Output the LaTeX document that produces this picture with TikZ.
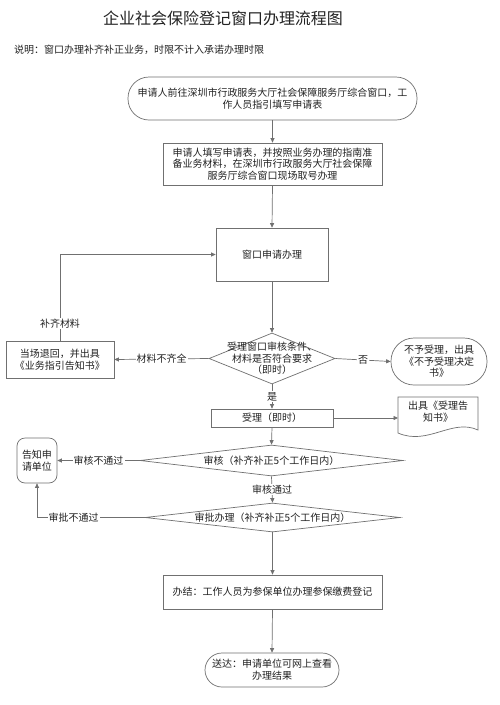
\documentclass[tikz,border=0pt]{standalone}
\usepackage{fontspec}
\setmainfont{Noto Sans CJK SC}
\usetikzlibrary{arrows.meta,shapes.geometric}
\definecolor{lc}{HTML}{707070}
\definecolor{tc}{HTML}{222222}
\tikzset{
  base/.style={draw=lc, line width=0.7pt, fill=white, inner sep=0pt, align=center, text=tc, font=\fontsize{10}{12}\selectfont},
  box/.style={base, rectangle},
  dia/.style={draw=lc, line width=0.7pt, fill=white, diamond, inner sep=0pt},
  txt/.style={inner sep=0pt, align=center, text=tc, font=\fontsize{10}{12}\selectfont},
  arr/.style={draw=lc, line width=0.7pt, -{Triangle[length=4.5pt,width=4pt]}},
  lbl/.style={fill=white, inner sep=1pt, text=tc, font=\fontsize{10}{12}\selectfont},
}
\begin{document}
\begin{tikzpicture}[x=1pt,y=-1pt]
\useasboundingbox[fill=white] (0,0) rectangle (500,705);

\node[text=tc, font=\fontsize{16}{18}\selectfont] (title) at (223,18) {企业社会保险登记窗口办理流程图};
\node[text=tc, font=\fontsize{10}{12}\selectfont, anchor=west, inner sep=0pt] (note) at (14,50) {说明：窗口办理补齐补正业务，时限不计入承诺办理时限};

\node[box, rounded corners=21pt, minimum width=289pt, minimum height=43pt] (n1) at (272.5,98.5)
  {申请人前往深圳市行政服务大厅社会保障服务厅综合窗口，工\\作人员指引填写申请表};
\node[box, minimum width=219pt, minimum height=42pt, font=\fontsize{10}{11.5}\selectfont] (n2) at (272.5,164)
  {申请人填写申请表，并按照业务办理的指南准\\备业务材料，在深圳市行政服务大厅社会保障\\服务厅综合窗口现场取号办理};
\node[box, minimum width=112pt, minimum height=53pt] (n3) at (272,254.5) {窗口申请办理};

\node[dia, minimum width=126pt, minimum height=51pt] (d1) at (272,358.5) {};
\node[txt, font=\fontsize{10}{11.5}\selectfont] (d1t) at (272,358.5) {受理窗口审核条件、\\材料是否符合要求\\（即时）};

\node[box, minimum width=108pt, minimum height=37pt] (back) at (60,359.5) {当场退回，并出具\\《业务指引告知书》};
\node[box, rounded corners=23pt, minimum width=96pt, minimum height=47pt, font=\fontsize{10}{11.5}\selectfont] (rej) at (439,361.5) {不予受理，出具\\《不予受理决定\\书》};

\node[box, minimum width=122pt, minimum height=18pt] (acc) at (272,418) {受理（即时）};

% document shape
\draw[draw=lc, line width=0.7pt, fill=white] (398,397) -- (478,397) -- (478,430)
  .. controls (452,418) and (428,446) .. (398,433) -- cycle;
\node[txt] (doc) at (438,412) {出具《受理告\\知书》};
\coordinate (docw) at (398,418);

\node[dia, minimum width=263pt, minimum height=31pt] (d2) at (271.5,460.5) {};
\node[txt] (d2t) at (271.5,460.5) {审核（补齐补正5个工作日内）};

\node[box, rounded corners=8pt, minimum width=40pt, minimum height=45pt] (inf) at (37,460.5) {告知申\\请单位};

\node[dia, minimum width=255pt, minimum height=29pt] (d3) at (272.5,517.5) {};
\node[txt] (d3t) at (272.5,517.5) {审批办理（补齐补正5个工作日内）};

\node[box, minimum width=219pt, minimum height=34pt] (fin) at (272.5,592) {办结：工作人员为参保单位办理参保缴费登记};
\node[box, rounded corners=17pt, minimum width=134pt, minimum height=34pt] (del) at (272,670) {送达：申请单位可网上查看\\办理结果};

% connectors
\draw[arr] (n1.south) -- (n2.north);
\draw[arr] (n2.south) -- (n3.north);
\draw[arr] (n3.south) -- (d1.north);
\draw[arr] (back.north) |- node[lbl, pos=0.1] {补齐材料} (n3.west);
\draw[arr] (d1.west) -- node[lbl] {材料不齐全} (back.east);
\draw[arr] (d1.east) -- node[lbl] {否} (rej.west);
\draw[arr] (d1.south) -- node[lbl] {是} (acc.north);
\draw[arr] (acc.east) -- (docw);
\draw[arr] (acc.south) -- (d2.north);
\draw[arr] (d2.west) -- node[lbl] {审核不通过} (inf.east);
\draw[arr] (d2.south) -- node[lbl] {审核通过} (d3.north);
\draw[arr] (d3.west) -| node[lbl, pos=0.33] {审批不通过} (inf.south);
\draw[arr] (d3.south) -- (fin.north);
\draw[arr] (fin.south) -- (del.north);
\end{tikzpicture}
\end{document}
